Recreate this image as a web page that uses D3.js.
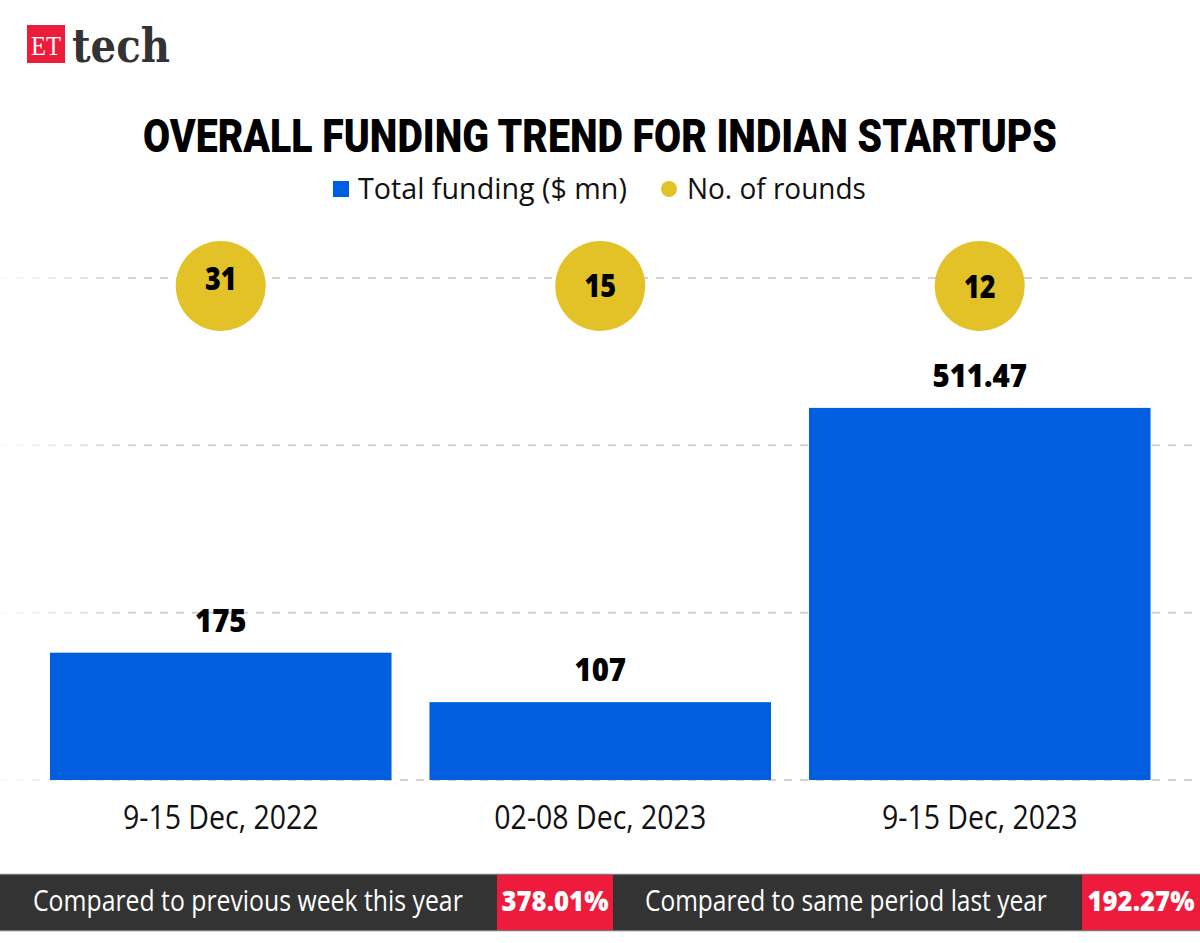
<!DOCTYPE html>
<html>
<head>
<meta charset="utf-8">
<script src="https://cdn.jsdelivr.net/npm/d3@7"></script>
<style>
  html, body { margin: 0; padding: 0; background: #fff; }
  svg { display: block; }
</style>
</head>
<body>
<svg id="chart" width="1200" height="943"></svg>
<script>
// ---- data ----
const categories = ["9-15 Dec, 2022", "02-08 Dec, 2023", "9-15 Dec, 2023"];
const fundingValues = [175, 107, 511.47];
const fundingLabels = ["175", "107", "511.47"];
const roundsValues = [31, 15, 12];
const gridTicks = [0, 230, 460, 690];
const comparisonLabels = ["Compared to previous week this year", "Compared to same period last year"];
const comparisonValues = ["378.01%", "192.27%"];
const titleText = "OVERALL FUNDING TREND FOR INDIAN STARTUPS";
const legendLabels = ["Total funding ($ mn)", "No. of rounds"];

// ---- setup ----
const W = 1200, H = 943;
const svg = d3.select("#chart");
const BLUE = "#005EDF", YELLOW = "#E3C228", RED = "#EE1B3C", DARK = "#333333";

// horizontally condense text (glyphs are narrower in the reference's condensed typeface)
function squeezeWith(sel, kFn) {
  sel.each(function (d, i) {
    const w = this.getComputedTextLength();
    const k = kFn(w, d, i);
    const tx = +this.getAttribute("x") || 0, ty = +this.getAttribute("y") || 0;
    this.setAttribute("x", 0);
    this.setAttribute("y", 0);
    this.setAttribute("transform", `translate(${tx},${ty}) scale(${k},1)`);
  });
}
const squeezeBy = (sel, k) => squeezeWith(sel, () => k);
const squeezeTo = (sel, target) => squeezeWith(sel, w => target / w);

// gradient for gridline fade on the left
const defs = svg.append("defs");
const grad = defs.append("linearGradient").attr("id", "gridFade")
  .attr("gradientUnits", "userSpaceOnUse").attr("x1", 0).attr("x2", 140).attr("y1", 0).attr("y2", 0);
grad.append("stop").attr("offset", 0).attr("stop-color", "#d2d2d2").attr("stop-opacity", 0.1);
grad.append("stop").attr("offset", 1).attr("stop-color", "#d2d2d2").attr("stop-opacity", 1);

// ---- logo ----
const logo = svg.append("g");
logo.append("rect").attr("x", 27).attr("y", 25).attr("width", 38).attr("height", 38).attr("fill", "#ED1C3B");
logo.append("text").attr("x", 46).attr("y", 55).attr("text-anchor", "middle")
  .attr("font-family", "Liberation Serif").attr("font-size", 27).attr("fill", "#fff").text("ET")
  .call(squeezeTo, 30);
logo.append("text").attr("x", 72).attr("y", 62)
  .attr("font-family", "DejaVu Serif").attr("font-weight", 700).attr("font-size", 47).attr("fill", "#333")
  .text("tech").call(squeezeTo, 98);

// ---- title ----
svg.append("text").attr("x", 600).attr("y", 152).attr("text-anchor", "middle")
  .attr("font-family", "Roboto").attr("font-weight", 900).attr("font-size", 46).attr("fill", "#000")
  .text(titleText).call(squeezeTo, 914);

// ---- legend ----
const lg = svg.append("g").attr("font-family", "Open Sans").attr("font-size", 29).attr("fill", "#111");
lg.append("rect").attr("x", 333).attr("y", 181).attr("width", 16).attr("height", 16).attr("fill", BLUE);
lg.append("text").attr("x", 358).attr("y", 199).text(legendLabels[0]).call(squeezeTo, 269);
lg.append("circle").attr("cx", 669).attr("cy", 189).attr("r", 8).attr("fill", YELLOW);
lg.append("text").attr("x", 687).attr("y", 199).text(legendLabels[1]).call(squeezeTo, 179);

// ---- scales ----
const x = d3.scaleBand().domain(categories).range([31, 1169.5]).paddingInner(0.1).paddingOuter(0.05);
const y = d3.scaleLinear().domain([0, 690]).range([780, 278]);
const yRoundsLabel = d3.scaleLinear().domain([12, 31]).range([298, 290]);

// ---- gridlines ----
svg.append("g").selectAll("line").data(gridTicks).join("line")
  .attr("x1", 0).attr("x2", W)
  .attr("y1", d => y(d)).attr("y2", d => y(d))
  .attr("stroke", "url(#gridFade)").attr("stroke-width", 2).attr("stroke-dasharray", "8,8");

// ---- bars ----
const data = categories.map((c, i) => ({ c, v: fundingValues[i], lab: fundingLabels[i], r: roundsValues[i] }));
svg.append("g").selectAll("rect").data(data).join("rect")
  .attr("x", d => x(d.c)).attr("width", x.bandwidth())
  .attr("y", d => y(d.v)).attr("height", d => y(0) - y(d.v))
  .attr("fill", BLUE);

// bar value labels
svg.append("g").selectAll("text").data(data).join("text")
  .attr("x", d => x(d.c) + x.bandwidth() / 2).attr("y", d => y(d.v) - 21)
  .attr("text-anchor", "middle").attr("font-family", "Open Sans").attr("font-weight", 800)
  .attr("font-size", 32).attr("fill", "#000").text(d => d.lab).call(squeezeBy, 0.92);

// ---- rounds bubbles ----
const bub = svg.append("g");
bub.selectAll("circle").data(data).join("circle")
  .attr("cx", d => x(d.c) + x.bandwidth() / 2).attr("cy", 286).attr("r", 45).attr("fill", YELLOW);
bub.selectAll("text").data(data).join("text")
  .attr("x", d => x(d.c) + x.bandwidth() / 2).attr("y", d => yRoundsLabel(d.r))
  .attr("text-anchor", "middle").attr("font-family", "Open Sans").attr("font-weight", 800)
  .attr("font-size", 31).attr("fill", "#000").text(d => d.r).call(squeezeBy, 0.87);

// ---- x axis labels ----
const xAxis = d3.axisBottom(x).tickSize(0).tickPadding(0);
const ax = svg.append("g").attr("transform", "translate(0,806)").call(xAxis);
ax.select(".domain").remove();
ax.selectAll("text").attr("font-family", "Open Sans").attr("font-size", 32).attr("fill", "#111")
  .attr("dy", "0.71em").call(squeezeBy, 0.89);

// ---- bottom comparison bar ----
const bottom = svg.append("g");
bottom.append("rect").attr("x", 0).attr("y", 874).attr("width", W).attr("height", 57).attr("fill", DARK);
bottom.append("line").attr("x1", 0).attr("x2", W).attr("y1", 874).attr("y2", 874).attr("stroke", "#bbb").attr("stroke-width", 1);
bottom.append("line").attr("x1", 0).attr("x2", W).attr("y1", 931).attr("y2", 931).attr("stroke", "#bbb").attr("stroke-width", 1);
const redBoxes = [[497, 613], [1082, 1200]];
const textBlocks = [[33, 430], [645, 402]];
const valWidths = [107, 107];
redBoxes.forEach((b, i) => {
  bottom.append("rect").attr("x", b[0]).attr("y", 875).attr("width", b[1] - b[0]).attr("height", 55).attr("fill", RED);
  bottom.append("text").attr("x", textBlocks[i][0]).attr("y", 911)
    .attr("font-family", "Open Sans").attr("font-size", 29).attr("fill", "#fff")
    .text(comparisonLabels[i]).call(squeezeTo, textBlocks[i][1]);
  bottom.append("text").attr("x", (b[0] + b[1]) / 2).attr("y", 911).attr("text-anchor", "middle")
    .attr("font-family", "Open Sans").attr("font-weight", 800).attr("font-size", 29).attr("fill", "#fff")
    .text(comparisonValues[i]).call(squeezeTo, valWidths[i]);
});
</script>
</body>
</html>
